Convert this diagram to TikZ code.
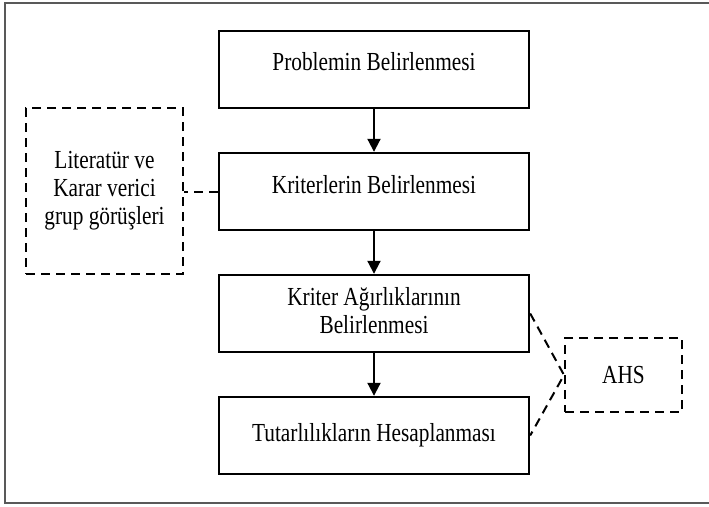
\documentclass[tikz,border=0pt]{standalone}
\usepackage{fontspec}
\setmainfont{Liberation Serif}[FakeStretch=0.82]
\usetikzlibrary{arrows.meta, positioning}
\newcommand{\liftby}[2]{\raisebox{#1}[\height][\depth]{#2}}

\begin{document}
\begin{tikzpicture}[x=1pt, y=-1pt,
    every node/.style={font=\fontsize{26}{28}\selectfont},
    stage/.style={rectangle, draw, line width=2.4pt, minimum width=310pt,
                  minimum height=77pt, inner sep=0pt},
    aux/.style={rectangle, draw, line width=2pt, dash pattern=on 9pt off 6pt,
                inner sep=0pt},
    flow/.style={-{Triangle[length=13pt, width=13pt]}, line width=2pt},
    link/.style={line width=2pt, dash pattern=on 9pt off 6pt},
]
\useasboundingbox (0,0) rectangle (709,506);
\draw[black!65, line width=1.5pt] (5,3) rectangle (716,503);

% the main steps
\node[stage] (prob) at (374, 69.5)
     {\liftby{8pt}{Problemin Belirlenmesi}};
\node[stage] (krit) at (374, 191.5)
     {\liftby{7pt}{Kriterlerin Belirlenmesi}};
\node[stage] (agir) at (374, 313.5)
     {\begin{tabular}{@{}c@{}}Kriter Ağırlıklarının\\ Belirlenmesi\end{tabular}};
\node[stage] (tutar) at (374, 435.5) {Tutarlılıkların Hesaplanması};

\draw[flow] (prob) -- (krit);
\draw[flow] (krit) -- (agir);
\draw[flow] (agir) -- (tutar);

% the side sources
\node[aux, minimum width=157pt, minimum height=166pt] (lit) at (104.5, 191)
     {\begin{tabular}{@{}c@{}}Literatür ve\\ Karar verici\\ grup görüşleri\end{tabular}};
\node[aux, minimum width=117pt, minimum height=74pt] (ahs) at (623.5, 375) {AHS};

\draw[link] (krit.west) -- (krit.west -| lit.east);
\draw[link] (agir.east) -- (ahs.west) -- (tutar.east);

\end{tikzpicture}
\end{document}
